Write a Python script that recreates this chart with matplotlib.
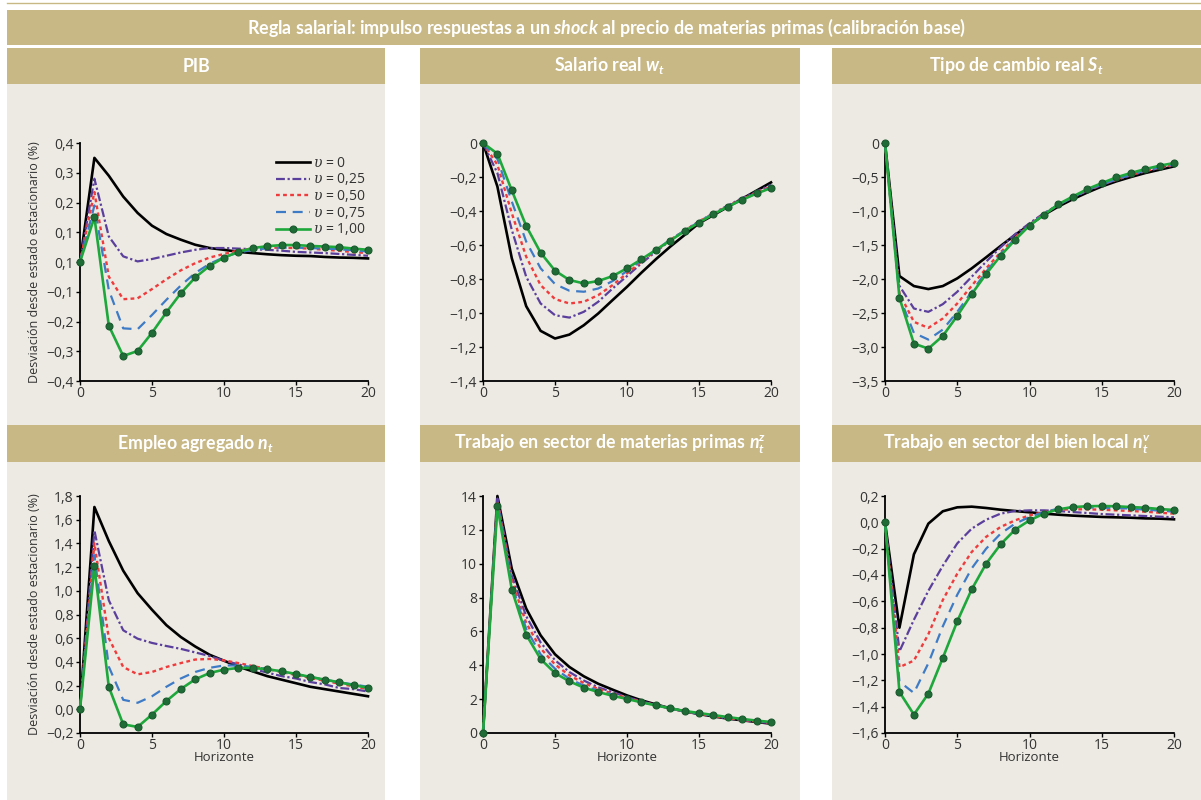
import numpy as np
import matplotlib.pyplot as plt
from matplotlib.patches import Rectangle

plt.rcParams['font.family'] = ['Open Sans', 'DejaVu Sans']
plt.rcParams['mathtext.fontset'] = 'custom'
plt.rcParams['mathtext.rm'] = 'Lato:bold'
plt.rcParams['mathtext.it'] = 'DejaVu Serif:italic'
plt.rcParams['mathtext.bfit'] = 'Lato:bold:italic'

horizonte = np.arange(21)
upsilon = ['0', '0,25', '0,50', '0,75', '1,00']

# PIB
pib_v000 = [0.00, 0.35, 0.29, 0.22, 0.165, 0.122, 0.094, 0.075, 0.058, 0.047, 0.041,
            0.034, 0.030, 0.026, 0.023, 0.021, 0.020, 0.017, 0.015, 0.014, 0.012]
pib_v025 = [0.00, 0.28, 0.086, 0.019, 0.002, 0.010, 0.021, 0.032, 0.041, 0.047, 0.047,
            0.045, 0.043, 0.041, 0.038, 0.034, 0.032, 0.030, 0.027, 0.024, 0.021]
pib_v050 = [0.00, 0.235, -0.049, -0.125, -0.122, -0.091, -0.058, -0.028, -0.004, 0.015, 0.027,
            0.039, 0.045, 0.048, 0.048, 0.047, 0.045, 0.041, 0.038, 0.033, 0.030]
pib_v075 = [0.00, 0.19, -0.094, -0.223, -0.226, -0.178, -0.127, -0.079, -0.037, -0.006, 0.016,
            0.032, 0.041, 0.046, 0.048, 0.048, 0.047, 0.045, 0.043, 0.039, 0.035]
pib_v100 = [0.00, 0.151, -0.214, -0.316, -0.299, -0.238, -0.169, -0.105, -0.052, -0.013, 0.015,
            0.034, 0.047, 0.053, 0.057, 0.057, 0.054, 0.052, 0.050, 0.045, 0.041]

# Salario real
sal_v000 = [0, -0.256, -0.678, -0.96, -1.105, -1.15, -1.127, -1.072, -1.003, -0.924, -0.846,
            -0.763, -0.684, -0.61, -0.541, -0.472, -0.424, -0.376, -0.328, -0.28, -0.232]
sal_v025 = [0, -0.177, -0.511, -0.787, -0.944, -1.013, -1.027, -0.993, -0.934, -0.856, -0.783,
            -0.708, -0.639, -0.574, -0.515, -0.462, -0.413, -0.368, -0.324, -0.285, -0.246]
sal_v050 = [0, -0.128, -0.413, -0.669, -0.836, -0.918, -0.944, -0.934, -0.895, -0.836, -0.767,
            -0.698, -0.633, -0.570, -0.515, -0.462, -0.415, -0.372, -0.330, -0.291, -0.256]
sal_v075 = [0, -0.094, -0.344, -0.580, -0.737, -0.830, -0.869, -0.875, -0.856, -0.812, -0.753,
            -0.692, -0.629, -0.570, -0.515, -0.464, -0.417, -0.374, -0.334, -0.295, -0.260]
sal_v100 = [0, -0.063, -0.279, -0.488, -0.645, -0.751, -0.806, -0.826, -0.812, -0.783, -0.737,
            -0.684, -0.629, -0.574, -0.519, -0.468, -0.419, -0.374, -0.334, -0.297, -0.265]

# Tipo de cambio real
tc_v000 = [0, -1.957, -2.104, -2.148, -2.104, -1.991, -1.844, -1.681, -1.514, -1.352, -1.204,
           -1.057, -0.934, -0.826, -0.728, -0.639, -0.565, -0.501, -0.442, -0.393, -0.344]
tc_v025 = [0, -2.10, -2.434, -2.483, -2.37, -2.188, -1.967, -1.745, -1.534, -1.342, -1.18,
           -1.032, -0.91, -0.801, -0.703, -0.619, -0.541, -0.477, -0.418, -0.369, -0.329]
tc_v050 = [0, -2.212, -2.63, -2.719, -2.581, -2.36, -2.099, -1.844, -1.608, -1.391, -1.204,
           -1.042, -0.91, -0.797, -0.698, -0.614, -0.541, -0.472, -0.413, -0.364, -0.32]
tc_v075 = [0, -2.26, -2.793, -2.891, -2.744, -2.483, -2.188, -1.893, -1.632, -1.406, -1.209,
           -1.047, -0.91, -0.797, -0.693, -0.609, -0.536, -0.467, -0.408, -0.359, -0.315]
tc_v100 = [0, -2.276, -2.95, -3.024, -2.837, -2.542, -2.222, -1.927, -1.657, -1.426, -1.214,
           -1.057, -0.9, -0.787, -0.678, -0.59, -0.506, -0.442, -0.384, -0.334, -0.295]

# Empleo agregado
emp_v000 = [0, 1.707, 1.42, 1.17, 0.98, 0.84, 0.71, 0.61, 0.53, 0.46, 0.41,
            0.36, 0.32, 0.28, 0.25, 0.22, 0.19, 0.17, 0.15, 0.13, 0.11]
emp_v025 = [0, 1.51, 0.92, 0.667, 0.596, 0.56, 0.534, 0.51, 0.48, 0.45, 0.41,
            0.38, 0.34, 0.31, 0.28, 0.26, 0.23, 0.21, 0.18, 0.17, 0.15]
emp_v050 = [0, 1.40, 0.60, 0.357, 0.295, 0.315, 0.357, 0.39, 0.42, 0.425, 0.413,
            0.39, 0.365, 0.34, 0.315, 0.29, 0.265, 0.24, 0.216, 0.194, 0.17]
emp_v075 = [0, 1.30, 0.36, 0.08, 0.055, 0.11, 0.19, 0.26, 0.315, 0.35, 0.37,
            0.37, 0.357, 0.34, 0.318, 0.295, 0.273, 0.25, 0.228, 0.21, 0.19]
emp_v100 = [0, 1.207, 0.189, -0.127, -0.149, -0.045, 0.07, 0.171, 0.253, 0.306, 0.335,
            0.349, 0.349, 0.338, 0.321, 0.298, 0.273, 0.25, 0.228, 0.203, 0.183]

# Trabajo en sector de materias primas
mp_v000 = [0, 14.0, 9.7, 7.35, 5.77, 4.65, 3.9, 3.35, 2.91, 2.56, 2.22,
           1.93, 1.69, 1.46, 1.28, 1.12, 0.98, 0.85, 0.75, 0.65, 0.55]
mp_v025 = [0, 13.85, 9.3, 6.9, 5.35, 4.3, 3.6, 3.1, 2.7, 2.42, 2.12,
           1.88, 1.65, 1.45, 1.27, 1.12, 0.98, 0.86, 0.76, 0.66, 0.58]
mp_v050 = [0, 13.7, 9.0, 6.5, 5.0, 4.05, 3.4, 2.95, 2.6, 2.33, 2.07,
           1.85, 1.64, 1.45, 1.28, 1.13, 1.0, 0.88, 0.78, 0.68, 0.6]
mp_v075 = [0, 13.55, 8.75, 6.15, 4.65, 3.8, 3.2, 2.8, 2.5, 2.27, 2.04,
           1.83, 1.64, 1.46, 1.29, 1.15, 1.02, 0.9, 0.8, 0.7, 0.62]
mp_v100 = [0, 13.39, 8.47, 5.81, 4.37, 3.54, 3.05, 2.68, 2.42, 2.2, 2.01,
           1.81, 1.63, 1.46, 1.3, 1.18, 1.06, 0.94, 0.83, 0.73, 0.65]

# Trabajo en sector del bien local
bl_v000 = [0, -0.80, -0.243, -0.01, 0.084, 0.114, 0.119, 0.109, 0.096, 0.086, 0.076,
           0.066, 0.058, 0.051, 0.046, 0.041, 0.038, 0.035, 0.030, 0.028, 0.023]
bl_v025 = [0, -0.98, -0.74, -0.52, -0.33, -0.16, -0.048, 0.02, 0.066, 0.086, 0.091,
           0.091, 0.086, 0.078, 0.071, 0.063, 0.058, 0.053, 0.048, 0.043, 0.038]
bl_v050 = [0, -1.10, -1.05, -0.85, -0.59, -0.39, -0.225, -0.11, -0.035, 0.015, 0.053,
           0.078, 0.096, 0.099, 0.099, 0.096, 0.091, 0.086, 0.081, 0.073, 0.066]
bl_v075 = [0, -1.21, -1.296, -1.07, -0.79, -0.55, -0.35, -0.2, -0.086, -0.01, 0.04,
           0.078, 0.104, 0.111, 0.113, 0.111, 0.109, 0.104, 0.096, 0.089, 0.081]
bl_v100 = [0, -1.289, -1.46, -1.301, -1.03, -0.752, -0.509, -0.314, -0.167, -0.056, 0.015,
           0.066, 0.099, 0.116, 0.122, 0.124, 0.122, 0.116, 0.111, 0.101, 0.094]

# tick labels as printed (PIB repeats "0,1" at zero in the original)
pib_ticks = ['\u22120,4', '\u22120,3', '\u22120,2', '\u22120,1', '0,1', '0,1', '0,2', '0,3', '0,4']
sal_ticks = ['\u22121,4', '\u22121,2', '\u22121,0', '\u22120,8', '\u22120,6', '\u22120,4', '\u22120,2', '0']
tc_ticks = ['\u22123,5', '\u22123,0', '\u22122,5', '\u22122,0', '\u22121,5', '\u22121,0', '\u22120,5', '0']
emp_ticks = ['\u22120,2', '0,0', '0,2', '0,4', '0,6', '0,8', '1,0', '1,2', '1,4', '1,6', '1,8']
mp_ticks = ['0', '2', '4', '6', '8', '10', '12', '14']
bl_ticks = ['\u22121,6', '\u22121,4', '\u22121,2', '\u22121,0', '\u22120,8', '\u22120,6', '\u22120,4',
            '\u22120,2', '0,0', '0,2']

titulo = r'Regla salarial: impulso respuestas a un $\mathbfit{shock}$ al precio de materias primas (calibración base)'
headers = ['PIB', r'Salario real $\mathbfit{w_t}$', r'Tipo de cambio real $\mathbfit{S_t}$',
           r'Empleo agregado $\mathbfit{n_t}$', r'Trabajo en sector de materias primas $\mathbfit{n_t^z}$',
           r'Trabajo en sector del bien local $\mathbfit{n_t^v}$']

panels = [
    (pib_v000, pib_v025, pib_v050, pib_v075, pib_v100, (-0.4, 0.4), pib_ticks),
    (sal_v000, sal_v025, sal_v050, sal_v075, sal_v100, (-1.4, 0.0), sal_ticks),
    (tc_v000, tc_v025, tc_v050, tc_v075, tc_v100, (-3.5, 0.0), tc_ticks),
    (emp_v000, emp_v025, emp_v050, emp_v075, emp_v100, (-0.2, 1.8), emp_ticks),
    (mp_v000, mp_v025, mp_v050, mp_v075, mp_v100, (0, 14), mp_ticks),
    (bl_v000, bl_v025, bl_v050, bl_v075, bl_v100, (-1.6, 0.2), bl_ticks),
]

TAN = '#c8b886'
BG = '#edeae3'
styles = [
    dict(color='black', lw=1.9, ls='-'),
    dict(color='#5b3f9c', lw=1.6, ls=(0, (4, 1.2, 1, 1.2))),
    dict(color='#ef3b3c', lw=1.7, ls=(0, (1.6, 1.4))),
    dict(color='#3e7bc6', lw=1.6, ls=(0, (4.5, 3))),
    dict(color='#1ea83c', lw=1.9, ls='-', marker='o', ms=5, mfc='#1f6c37', mec='#1a5a2e', mew=0.8),
]

W, H = 1201, 800
fig = plt.figure(figsize=(W / 100, H / 100), dpi=100)
fig.patch.set_facecolor('white')


def rect(x0, y0, x1, y1, color):
    fig.patches.append(Rectangle((x0 / W, 1 - y1 / H), (x1 - x0) / W, (y1 - y0) / H,
                                 transform=fig.transFigure, facecolor=color,
                                 edgecolor='none', zorder=-2))


# title banner
fig.add_artist(plt.Line2D([7 / W, 1], [1 - 2.5 / H, 1 - 2.5 / H], color=TAN, lw=1, zorder=-1))
rect(7, 9.5, W, 45, TAN)
fig.text(606 / W, 1 - 27.5 / H, titulo, ha='center', va='center', color='white',
         fontsize=12.9, fontfamily='Lato', fontweight='bold')

cols = [(7, 385), (420, 800), (832, W)]
rows = [(48, 84, 425), (425, 462, H)]
ax_x = [(80, 368), (483, 771), (885, 1174)]
ax_y = [(143, 381), (496, 733)]

for i, (v0, v1, v2, v3, v4, ylim, ticks) in enumerate(panels):
    r, c = divmod(i, 3)
    x0, x1 = cols[c]
    hy0, hy1, by1 = rows[r]
    rect(x0, hy0, x1, hy1, TAN)
    rect(x0, hy1, x1, by1, BG)
    fig.text((x0 + x1) / 2 / W, 1 - (hy0 + hy1) / 2 / H, headers[i], ha='center', va='center',
             color='white', fontsize=12.8, fontfamily='Lato', fontweight='bold')

    ax0, ax1 = ax_x[c]
    ay0, ay1 = ax_y[r]
    ax = fig.add_axes([ax0 / W, 1 - ay1 / H, (ax1 - ax0) / W, (ay1 - ay0) / H])
    ax.patch.set_alpha(0)
    for k, vals in enumerate([v0, v1, v2, v3, v4]):
        ax.plot(horizonte, vals, label=r'$\upsilon$ = ' + upsilon[k], clip_on=False,
                zorder=2 + k, **styles[k])

    ax.set_xlim(0, 20)
    ax.set_ylim(*ylim)
    ax.set_xticks([0, 5, 10, 15, 20])
    ax.set_yticks(np.linspace(ylim[0], ylim[1], len(ticks)))
    ax.set_yticklabels(ticks)
    for s in ['top', 'right']:
        ax.spines[s].set_visible(False)
    for s in ['left', 'bottom']:
        ax.spines[s].set_linewidth(1.3)
    if r == 1:
        ax.spines['bottom'].set_linestyle((0, (2.5, 1)))
    ax.tick_params(direction='out', length=3, width=1, color='black', labelcolor='#333333',
                   labelsize=10)
    ax.tick_params(axis='x', pad=0.5)
    ax.tick_params(axis='y', pad=1.5)

    if c == 0:
        ax.set_ylabel('Desviación desde estado estacionario (%)', fontsize=9, color='#333333')
        ax.yaxis.set_label_coords(-0.135, 0.5)
    if r == 1:
        ax.set_xlabel('Horizonte', fontsize=9.5, color='#333333')
        ax.xaxis.set_label_coords(0.5, -0.077)

    if i == 0:
        ax.legend(loc='upper right', bbox_to_anchor=(1.01, 0.97), frameon=False, fontsize=10,
                  handlelength=2.4, handletextpad=0.25, labelspacing=0.05, borderaxespad=0,
                  labelcolor='#333333')

fig.savefig('out.png', dpi=100, facecolor='white')
